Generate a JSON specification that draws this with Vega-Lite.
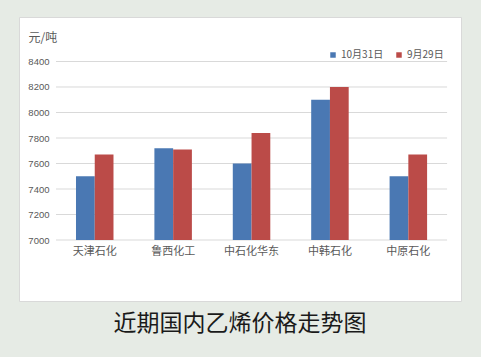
{
  "$schema": "https://vega.github.io/schema/vega-lite/v6.json",
  "width": 442,
  "height": 284,
  "autosize": {"type": "none"},
  "padding": {"left": 19, "top": 17, "right": 20, "bottom": 56},
  "background": "#e6ebe5",
  "view": {"fill": "#ffffff", "stroke": "#d9d9d9", "strokeWidth": 1},
  "config": {"font": "Noto Sans CJK SC"},
  "title": {
    "text": "近期国内乙烯价格走势图",
    "orient": "bottom",
    "anchor": "middle",
    "font": "Noto Sans CJK SC",
    "fontSize": 23,
    "fontWeight": "normal",
    "color": "#1a1a1a",
    "offset": 12
  },
  "datasets": {
    "prices": [
      {"company": "天津石化", "date": "10月31日", "price": 7500},
      {"company": "天津石化", "date": "9月29日", "price": 7670},
      {"company": "鲁西化工", "date": "10月31日", "price": 7720},
      {"company": "鲁西化工", "date": "9月29日", "price": 7710},
      {"company": "中石化华东", "date": "10月31日", "price": 7600},
      {"company": "中石化华东", "date": "9月29日", "price": 7840},
      {"company": "中韩石化", "date": "10月31日", "price": 8100},
      {"company": "中韩石化", "date": "9月29日", "price": 8200},
      {"company": "中原石化", "date": "10月31日", "price": 7500},
      {"company": "中原石化", "date": "9月29日", "price": 7670}
    ],
    "grid": [
      {"v": 7000}, {"v": 7200}, {"v": 7400}, {"v": 7600},
      {"v": 7800}, {"v": 8000}, {"v": 8200}, {"v": 8400}
    ]
  },
  "layer": [
    {
      "data": {"name": "grid"},
      "mark": {"type": "rule", "color": "#d9d9d9", "strokeWidth": 1},
      "encoding": {
        "y": {
          "field": "v",
          "type": "quantitative",
          "scale": {"domain": [6521.6, 8749], "nice": false, "zero": false},
          "axis": {
            "values": [7000, 7200, 7400, 7600, 7800, 8000, 8200, 8400],
            "format": "d",
            "grid": false,
            "domain": false,
            "ticks": false,
            "offset": -34,
            "labelPadding": 4,
            "labelFont": "Liberation Sans",
            "labelFontSize": 9.5,
            "labelColor": "#595959",
            "title": "元/吨",
            "titleAngle": 0,
            "titleAlign": "left",
            "titleBaseline": "middle",
            "titleX": -25,
            "titleY": 20,
            "titleFont": "Noto Sans CJK SC",
            "titleFontSize": 12,
            "titleFontWeight": "normal",
            "titleColor": "#595959"
          }
        },
        "x": {
          "datum": "天津石化",
          "type": "nominal",
          "bandPosition": -0.533,
          "scale": {
            "domain": ["天津石化", "鲁西化工", "中石化华东", "中韩石化", "中原石化"],
            "paddingInner": 0.5217,
            "paddingOuter": 0.5797,
            "align": 0.627,
            "round": false
          },
          "axis": {
            "orient": "bottom",
            "offset": -61,
            "domain": false,
            "ticks": false,
            "labelPadding": 5,
            "labelAngle": 0,
            "labelFont": "Noto Sans CJK SC",
            "labelFontSize": 11,
            "labelColor": "#595959",
            "title": null
          }
        },
        "x2": {"datum": "中原石化", "bandPosition": 1.533}
      }
    },
    {
      "data": {"name": "prices"},
      "mark": {"type": "bar"},
      "encoding": {
        "x": {
          "field": "company",
          "type": "nominal",
          "scale": {
            "domain": ["天津石化", "鲁西化工", "中石化华东", "中韩石化", "中原石化"],
            "paddingInner": 0.5217,
            "paddingOuter": 0.5797,
            "align": 0.627,
            "round": false
          },
          "axis": {
            "orient": "bottom",
            "offset": -61,
            "domain": false,
            "ticks": false,
            "labelPadding": 5,
            "labelAngle": 0,
            "labelFont": "Noto Sans CJK SC",
            "labelFontSize": 11,
            "labelColor": "#595959",
            "title": null
          }
        },
        "xOffset": {
          "field": "date",
          "type": "nominal",
          "scale": {"domain": ["10月31日", "9月29日"], "paddingInner": 0, "paddingOuter": 0}
        },
        "y": {
          "field": "price",
          "type": "quantitative",
          "scale": {"domain": [6521.6, 8749], "nice": false, "zero": false},
          "axis": {
            "values": [7000, 7200, 7400, 7600, 7800, 8000, 8200, 8400],
            "format": "d",
            "grid": false,
            "domain": false,
            "ticks": false,
            "offset": -34,
            "labelPadding": 4,
            "labelFont": "Liberation Sans",
            "labelFontSize": 9.5,
            "labelColor": "#595959",
            "title": "元/吨",
            "titleAngle": 0,
            "titleAlign": "left",
            "titleBaseline": "middle",
            "titleX": -25,
            "titleY": 20,
            "titleFont": "Noto Sans CJK SC",
            "titleFontSize": 12,
            "titleFontWeight": "normal",
            "titleColor": "#595959"
          }
        },
        "y2": {"datum": 7000},
        "color": {
          "field": "date",
          "type": "nominal",
          "scale": {"domain": ["10月31日", "9月29日"], "range": ["#4a78b3", "#bb4b48"]},
          "legend": {
            "orient": "none",
            "legendX": 309,
            "legendY": 33,
            "direction": "horizontal",
            "title": null,
            "symbolType": "square",
            "symbolSize": 30,
            "symbolStrokeWidth": 0,
            "labelFont": "Noto Sans CJK SC",
            "labelFontSize": 10,
            "labelColor": "#595959",
            "labelOffset": 3,
            "columnPadding": 10,
            "padding": 0
          }
        }
      }
    }
  ]
}
